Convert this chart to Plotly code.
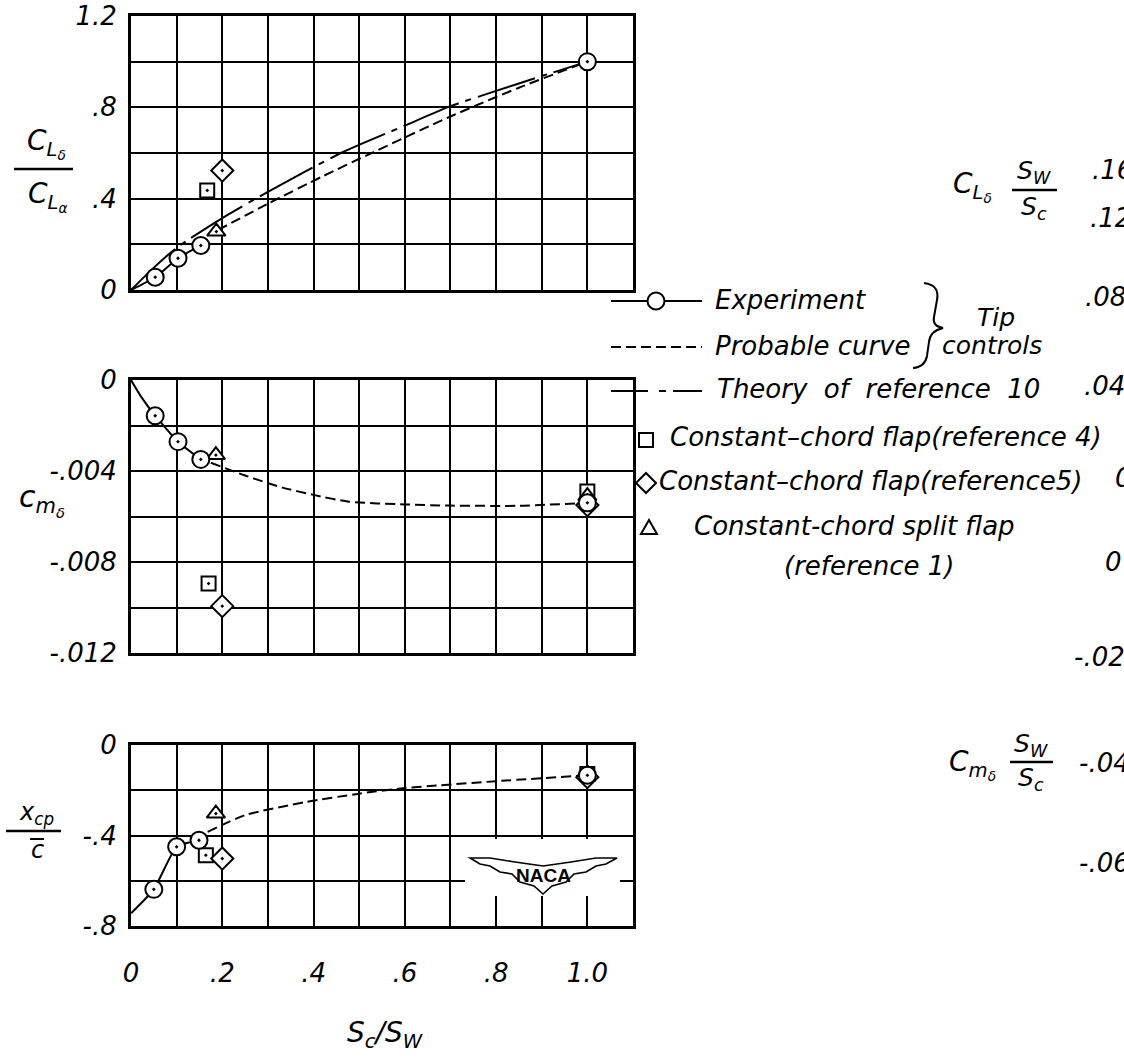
import plotly.graph_objects as go

W, H = 1124, 1057
FONT = "DejaVu Sans"

# ---------------- data ----------------
x_tick_vals = [0, 0.2, 0.4, 0.6, 0.8, 1.0]
x_tick_text = ["0", ".2", ".4", ".6", ".8", "1.0"]

# top panel : C_L_delta / C_L_alpha
top_exp_x = [0.053, 0.103, 0.153, 1.0]
top_exp_y = [0.056, 0.139, 0.195, 1.0]
top_expline_x = [0, 0.053, 0.103, 0.153]
top_expline_y = [0, 0.056, 0.139, 0.195]
top_prob_x = [0.19, 0.3, 0.42, 0.52, 0.7, 0.85, 1.0]
top_prob_y = [0.262, 0.378, 0.498, 0.593, 0.76, 0.886, 1.0]
top_theory_x = [0, 0.05, 0.1, 0.2, 0.3, 0.46, 0.6, 0.7, 0.8, 0.9, 1.0]
top_theory_y = [0, 0.098, 0.185, 0.315, 0.43, 0.60, 0.72, 0.805, 0.872, 0.937, 1.0]
top_sq_x, top_sq_y = [0.167], [0.436]
top_di_x, top_di_y = [0.2], [0.523]
top_tr_x, top_tr_y = [0.187], [0.256]
top_y_ticks = [0, 0.4, 0.8, 1.2]
top_y_text = ["0", ".4", ".8", "1.2"]

# middle panel : C_m_delta
mid_exp_x = [0.053, 0.103, 0.153, 1.0]
mid_exp_y = [-0.00157, -0.00271, -0.00349, -0.0054]
mid_expline_x = [0, 0.022, 0.053, 0.103, 0.153]
mid_expline_y = [0, -0.00073, -0.00157, -0.00271, -0.00349]
mid_prob_x = [0.175, 0.25, 0.332, 0.4, 0.477, 0.6, 0.7, 0.85, 1.0]
mid_prob_y = [-0.00364, -0.0042, -0.00473, -0.00505, -0.00535, -0.00547, -0.00552, -0.00553, -0.0054]
mid_sq_x, mid_sq_y = [0.17, 1.0], [-0.00895, -0.0049]
mid_di_x, mid_di_y = [0.2, 1.0], [-0.00994, -0.0055]
mid_tr_x, mid_tr_y = [0.186, 1.0], [-0.0033, -0.0051]
mid_y_ticks = [0, -0.004, -0.008, -0.012]
mid_y_text = ["0", "-.004", "-.008", "-.012"]

# bottom panel : x_cp / c
bot_exp_x = [0.05, 0.1, 0.149, 1.0]
bot_exp_y = [-0.638, -0.45, -0.421, -0.134]
bot_expline_x = [0, 0.05, 0.1, 0.149]
bot_expline_y = [-0.744, -0.638, -0.45, -0.421]
bot_prob_x = [0.168, 0.25, 0.383, 0.5, 0.6, 0.678, 0.8, 1.0]
bot_prob_y = [-0.384, -0.31, -0.252, -0.215, -0.19, -0.178, -0.16, -0.134]
bot_sq_x, bot_sq_y = [0.164, 1.0], [-0.487, -0.128]
bot_di_x, bot_di_y = [0.2, 1.0], [-0.502, -0.142]
bot_tr_x, bot_tr_y = [0.186, 1.0], [-0.303, -0.125]
bot_y_ticks = [0, -0.4, -0.8]
bot_y_text = ["0", "-.4", "-.8"]

# tick labels of the neighbouring (cut-off) chart on the right
right_upper_labels = [".16", ".12", ".08", ".04", "0"]
right_lower_labels = ["0", "-.02", "-.04", "-.06"]

# ---------------- helpers ----------------
def X(px):
    return px / W


def Y(py):
    return 1 - py / H


def ann(text, x, y, size=26, xanchor="center", yanchor="middle", italic=True,
        family=FONT, weight="normal"):
    return dict(text=text, x=X(x), y=Y(y), xref="paper", yref="paper",
                showarrow=False, xanchor=xanchor, yanchor=yanchor,
                font=dict(family=family, size=size, color="black",
                          style="italic" if italic else "normal", weight=weight))


def seg(x0, y0, x1, y1, w=2, dash=None):
    ln = dict(color="black", width=w)
    if dash:
        ln["dash"] = dash
    return dict(type="line", xref="paper", yref="paper",
                x0=X(x0), y0=Y(y0), x1=X(x1), y1=Y(y1), line=ln)


def path(cmds, fill=None, w=2):
    parts = []
    for c in cmds:
        op, pts = c[0], c[1:]
        if op == "Z":
            parts.append("Z")
        elif op == "Q":
            for i in range(0, len(pts), 2):
                a, b = pts[i], pts[i + 1]
                parts.append(f"Q{X(a[0]):.5f},{Y(a[1]):.5f} {X(b[0]):.5f},{Y(b[1]):.5f}")
        else:
            for p in pts:
                parts.append(f"{op}{X(p[0]):.5f},{Y(p[1]):.5f}")
                if op == "M":
                    op = "L"
    d = dict(type="path", xref="paper", yref="paper", path=" ".join(parts),
             line=dict(color="black", width=w))
    if fill:
        d["fillcolor"] = fill
    return d


# ---------------- figure ----------------
fig = go.Figure()

xd = [131 / W, 633 / W]
doms = {
    1: [Y(290), Y(16)],
    2: [Y(653), Y(380)],
    3: [Y(926), Y(745)],
}

mk = dict(color="white", line=dict(color="black", width=2))
PROB_DASH = "10px,5px"
THEORY_DASH = "60px,7px,6px,7px"


def add_panel(n, expline, exp, prob, sq, di, tr, theory=None):
    xa, ya = ("x" if n == 1 else f"x{n}"), ("y" if n == 1 else f"y{n}")
    if theory:
        fig.add_trace(go.Scatter(x=theory[0], y=theory[1], mode="lines", xaxis=xa, yaxis=ya,
                                 line=dict(color="black", width=2, dash=THEORY_DASH, shape="spline", smoothing=0.6),
                                 showlegend=False, hoverinfo="skip"))
    fig.add_trace(go.Scatter(x=prob[0], y=prob[1], mode="lines", xaxis=xa, yaxis=ya,
                             line=dict(color="black", width=2, dash=PROB_DASH, shape="spline", smoothing=0.6),
                             showlegend=False, hoverinfo="skip"))
    fig.add_trace(go.Scatter(x=expline[0], y=expline[1], mode="lines", xaxis=xa, yaxis=ya,
                             line=dict(color="black", width=2, shape="spline", smoothing=0.5),
                             showlegend=False, hoverinfo="skip"))
    for (px_, py_), sym, size in [(sq, "square-dot", 14), (tr, "triangle-up-dot", 16),
                                  (di, "diamond-dot", 17), (exp, "circle-dot", 17)]:
        fig.add_trace(go.Scatter(x=px_, y=py_, mode="markers", xaxis=xa, yaxis=ya,
                                 marker=dict(symbol=sym, size=size, **mk), cliponaxis=False,
                                 showlegend=False, hoverinfo="skip"))


add_panel(1, (top_expline_x, top_expline_y), (top_exp_x, top_exp_y), (top_prob_x, top_prob_y),
          (top_sq_x, top_sq_y), (top_di_x, top_di_y), (top_tr_x, top_tr_y),
          theory=(top_theory_x, top_theory_y))
add_panel(2, (mid_expline_x, mid_expline_y), (mid_exp_x, mid_exp_y), (mid_prob_x, mid_prob_y),
          (mid_sq_x, mid_sq_y), (mid_di_x, mid_di_y), (mid_tr_x, mid_tr_y))
add_panel(3, (bot_expline_x, bot_expline_y), (bot_exp_x, bot_exp_y), (bot_prob_x, bot_prob_y),
          (bot_sq_x, bot_sq_y), (bot_di_x, bot_di_y), (bot_tr_x, bot_tr_y))

tickfont = dict(family=FONT, size=26, color="black", style="italic")
grid = dict(showgrid=True, gridcolor="black", gridwidth=2)
axline = dict(showline=True, mirror=True, linecolor="black", linewidth=3, zeroline=False,
              ticks="", fixedrange=True)

yinfo = {1: ([0, 1.2], top_y_ticks, top_y_text, 0.2),
         2: ([-0.012, 0], mid_y_ticks, mid_y_text, 0.002),
         3: ([-0.8, 0], bot_y_ticks, bot_y_text, 0.2)}

lay = {}
for n in (1, 2, 3):
    xk = "xaxis" if n == 1 else f"xaxis{n}"
    yk = "yaxis" if n == 1 else f"yaxis{n}"
    rng, tv, tt, mdt = yinfo[n]
    lay[xk] = dict(domain=xd, range=[0, 1.1], anchor="y" if n == 1 else f"y{n}",
                   tickmode="array", tickvals=x_tick_vals, ticktext=x_tick_text,
                   showticklabels=(n == 3), tickfont=tickfont, ticklabelstandoff=22,
                   minor=dict(dtick=0.1, tick0=0, **grid), **grid, **axline)
    lay[yk] = dict(domain=doms[n], range=rng, anchor="x" if n == 1 else f"x{n}",
                   tickmode="array", tickvals=tv, ticktext=tt, tickfont=tickfont,
                   ticklabelstandoff=6,
                   minor=dict(dtick=mdt, tick0=0, **grid), **grid, **axline)

shapes = []
annotations = []

# ---- axis titles (left) ----
annotations.append(ann("C<sub>L<sub>δ</sub></sub>", 46, 143, size=28))
shapes.append(seg(14, 169, 73, 169, w=2.5))
annotations.append(ann("C<sub>L<sub>α</sub></sub>", 48, 196, size=28))
annotations.append(ann("c<sub>m<sub>δ</sub></sub>", 42, 500, size=30))
annotations.append(ann("x<sub>cp</sub>", 36, 813, size=24))
shapes.append(seg(6, 831, 61, 831, w=2.5))
annotations.append(ann("c", 37, 850, size=24))
shapes.append(seg(30, 839, 44, 839, w=2))
annotations.append(ann("S<sub>c</sub>/S<sub>W</sub>", 385, 1034, size=28))

# ---- NACA logo ----
shapes.append(dict(type="rect", xref="paper", yref="paper", x0=X(465), x1=X(620),
                   y0=Y(896), y1=Y(839), fillcolor="white", line=dict(width=0)))
shapes.append(path([("M", (470, 858)), ("L", (490, 858), (515, 862), (543, 866), (571, 862),
                                       (596, 858), (617, 858), (606, 864), (596, 866),
                                       (586, 872), (574, 874), (566, 882), (552, 886),
                                       (543, 894), (534, 886), (520, 882), (512, 874),
                                       (500, 872), (490, 866), (480, 864)), ("Z",)],
                   fill="white", w=1.6))
annotations.append(ann("<b>NACA</b>", 543, 875, size=19, italic=False, family="Liberation Sans"))

# ---- custom legend ----
# Experiment
shapes.append(seg(611, 301, 702, 301))
shapes.append(dict(type="circle", xref="paper", yref="paper", x0=X(647.5), x1=X(664.5),
                   y0=Y(309.5), y1=Y(292.5), fillcolor="white", line=dict(color="black", width=2)))
annotations.append(ann("Experiment", 713, 300, xanchor="left"))
# Probable curve
shapes.append(seg(611, 347, 702, 347, dash=PROB_DASH))
annotations.append(ann("Probable curve", 713, 346, xanchor="left"))
# Theory
shapes.append(seg(611, 391, 648, 391))
shapes.append(seg(659, 391, 666, 391))
shapes.append(seg(673, 391, 702, 391))
annotations.append(ann("Theory\u00a0 of\u00a0 reference\u00a0 10", 715, 389, xanchor="left"))
# brace + Tip controls
shapes.append(path([("M", (924, 283)), ("Q", (940, 285), (937, 300)), ("L", (934, 317)),
                    ("Q", (932, 326), (943, 328)), ("Q", (930, 331), (929, 342)),
                    ("L", (927, 356)), ("Q", (925, 367), (913, 368))], w=2))
annotations.append(ann("Tip", 996, 317, size=25, xanchor="center"))
annotations.append(ann("controls", 940, 345, size=25, xanchor="left"))
# Square
shapes.append(dict(type="rect", xref="paper", yref="paper", x0=X(639), x1=X(653),
                   y0=Y(447), y1=Y(433), fillcolor="white", line=dict(color="black", width=2)))
annotations.append(ann("Constant\u2013chord flap(reference 4)", 668, 437, xanchor="left"))
# Diamond
shapes.append(path([("M", (646, 473)), ("L", (656, 483), (646, 493), (636, 483)), ("Z",)],
                   fill="white", w=2))
annotations.append(ann("Constant\u2013chord flap(reference5)", 657, 481, xanchor="left"))
# Triangle
shapes.append(path([("M", (649, 520)), ("L", (657, 534), (641, 534)), ("Z",)], fill="white", w=2))
annotations.append(ann("Constant-chord split flap", 692, 526, xanchor="left"))
annotations.append(ann("(reference 1)", 782, 566, xanchor="left"))

# ---- labels of the neighbouring chart (cut off at the right edge) ----
for txt, xx, yy in zip(right_upper_labels, [1090, 1088, 1083, 1082, 1113], [170, 218, 297, 386, 478]):
    annotations.append(ann(txt, xx, yy, xanchor="left"))
for txt, xx, yy in zip(right_lower_labels, [1103, 1072, 1077, 1077], [562, 657, 763, 863]):
    annotations.append(ann(txt, xx, yy, xanchor="left"))
annotations.append(ann("C<sub>L<sub>δ</sub></sub>", 972, 186, size=28))
annotations.append(ann("S<sub>W</sub>", 1034, 172, size=25))
shapes.append(seg(1012, 190, 1057, 190, w=2.5))
annotations.append(ann("S<sub>c</sub>", 1034, 208, size=25))
annotations.append(ann("C<sub>m<sub>δ</sub></sub>", 972, 764, size=28))
annotations.append(ann("S<sub>W</sub>", 1031, 745, size=25))
shapes.append(seg(1010, 762, 1053, 762, w=2.5))
annotations.append(ann("S<sub>c</sub>", 1031, 779, size=25))

fig.update_layout(
    width=W, height=H, autosize=False,
    margin=dict(l=0, r=0, t=0, b=0, pad=0, autoexpand=False),
    paper_bgcolor="white", plot_bgcolor="white",
    font=dict(family=FONT, size=26, color="black", style="italic"),
    showlegend=False,
    shapes=shapes, annotations=annotations,
    **lay,
)

fig.write_html("out.html", config={"displayModeBar": False},
               post_script="document.body.style.margin='0';")
